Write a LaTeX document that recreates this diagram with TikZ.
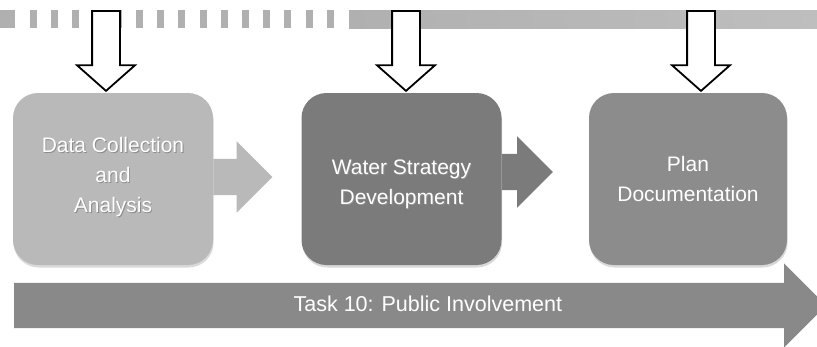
\documentclass[tikz,border=0pt]{standalone}
\usepackage{fontspec}
\setsansfont{Liberation Sans}
\usetikzlibrary{shapes.arrows,shadows}

\definecolor{barGray}{HTML}{B0B0B0}
\definecolor{barLight}{HTML}{BEBEBE}
\definecolor{stepLight}{HTML}{B9B9B9}
\definecolor{stepDark}{HTML}{7B7B7B}
\definecolor{stepMid}{HTML}{8C8C8C}
\definecolor{taskGray}{HTML}{898989}

% white text with a soft dark shadow
\newcommand{\shd}[1]{\leavevmode\rlap{\kern0.9pt\raisebox{-0.9pt}{\textcolor{black!45}{#1}}}#1}

\begin{document}
\begin{tikzpicture}[x=1pt, y=-1pt,
  phase/.style={rounded corners=25pt, minimum width=200pt, minimum height=172pt, inner sep=0pt,
    align=center, text=white, font=\sffamily\fontsize{21}{30}\selectfont,
    drop shadow={opacity=0.3, shadow xshift=0.6pt, shadow yshift=-2.5pt}},
  inflow/.style={single arrow, draw=black, line width=1.8pt, fill=white, minimum height=80pt,
    single arrow head extend=15pt, single arrow tip angle=97,
    inner xsep=0pt, inner ysep=13pt, rotate=-90, anchor=tail},
  handoff/.style={single arrow, single arrow head extend=17.5pt,
    single arrow tip angle=90, inner xsep=0pt, inner ysep=18pt, anchor=tail}]
  \useasboundingbox (0,0) rectangle (817,346);
  \clip (0,0) rectangle (817,346);

  % Top bar: dashed run, then solid run
  \fill[barGray] (0,10) rectangle (15,28);
  \foreach \k in {0,...,14}
    \fill[barGray] ({30+21.2*\k},10) rectangle ++(7,18);
  \shade[left color=barGray, right color=barLight] (349,10) rectangle (817,28);

  % Phase boxes
  \node[phase, fill=stepLight] (collect) at (113,179) {\shd{Data Collection}\\ \shd{and}\\ \shd{Analysis}\\[-22pt]};
  \node[phase, fill=stepDark] (strategy) at (401.5,179) {\\[-4pt]\shd{Water Strategy}\\ \shd{Development}};
  \node[phase, fill=stepMid, minimum width=198pt] (plan) at (688,179) {\shd{Plan}\\ \shd{Documentation}};

  % Hand-off arrows between phases
  \node[handoff, fill=stepLight, minimum height=59pt] (pass1) at ([yshift=2pt]collect.east) {};
  \node[handoff, fill=stepDark, minimum height=51pt] (pass2) at ([yshift=7pt]strategy.east) {};

  % Inputs from the top bar
  \node[inflow] (in1) at (106,10) {};
  \node[inflow] (in2) at (406,10) {};
  \node[inflow] (in3) at (701,10) {};

  % Task 10 along the bottom
  \node[single arrow, fill=taskGray, minimum height=812pt, single arrow head extend=19.5pt,
    single arrow tip angle=90, inner xsep=0pt, inner ysep=12.5pt, text height=15.5pt,
    text depth=4.5pt, anchor=tail, text=white, font=\sffamily\fontsize{21.5}{25}\selectfont]
    (task) at (14,305.5) {\hspace*{38pt}\shd{Task 10: Public Involvement}};
\end{tikzpicture}
\end{document}
